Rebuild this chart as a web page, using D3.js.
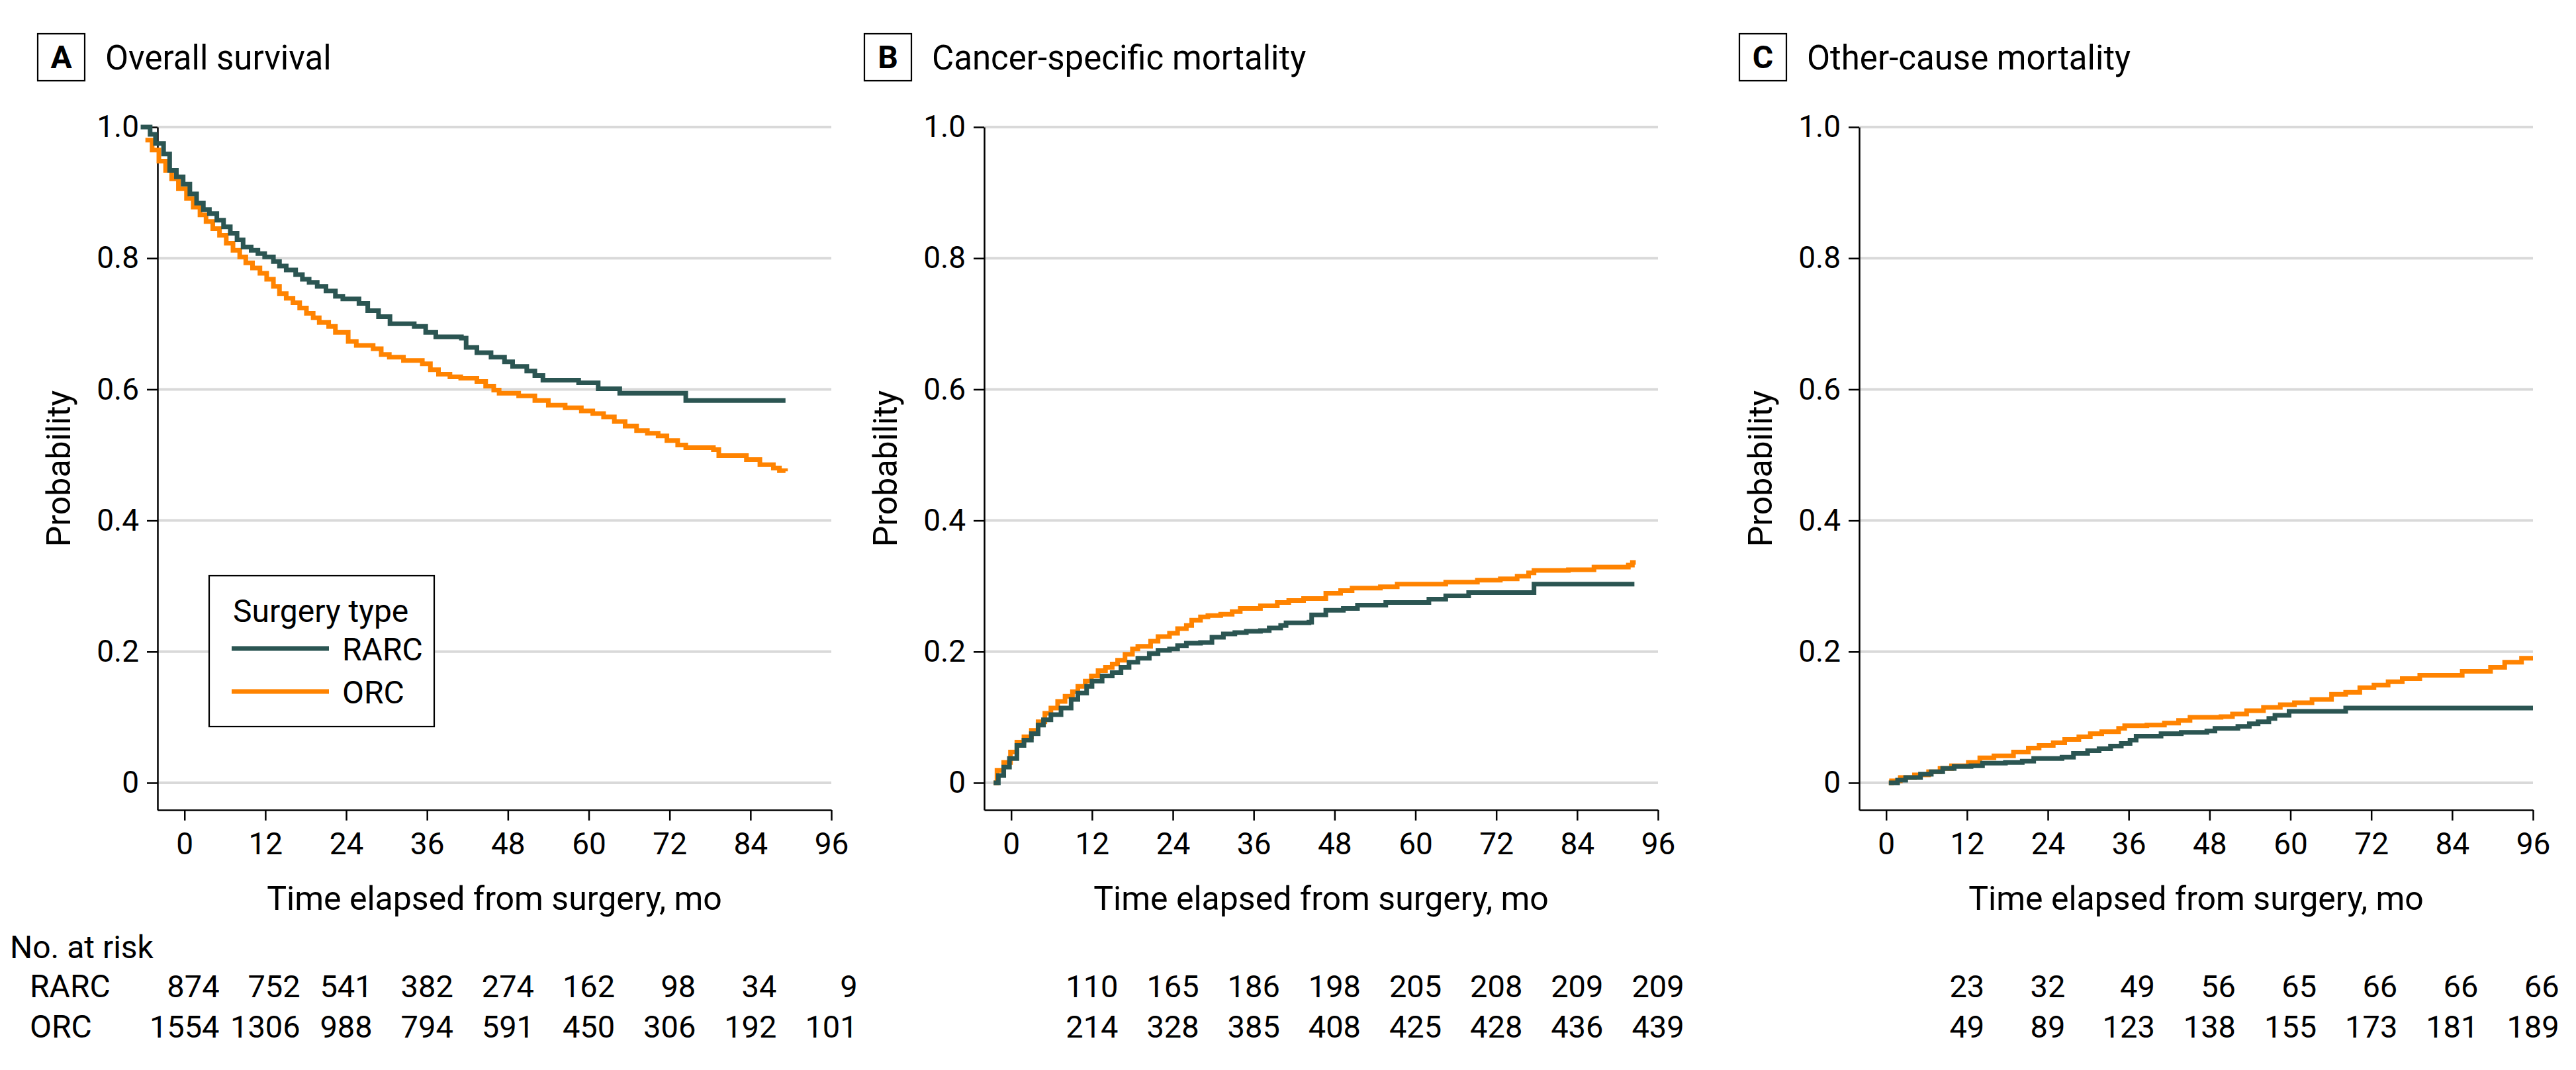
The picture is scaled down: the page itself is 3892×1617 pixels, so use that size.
<!DOCTYPE html>
<html>
<head>
<meta charset="utf-8">
<script src="https://cdn.jsdelivr.net/npm/d3@7"></script>
<style>
  html, body { margin: 0; padding: 0; background: #ffffff; }
  svg text { font-family: Roboto, "Liberation Sans", sans-serif; fill: #000; }
</style>
</head>
<body>
<svg id="chart" width="3892" height="1617"></svg>
<script>
// ---------------- DATA ----------------
const timeTicks = [0, 12, 24, 36, 48, 60, 72, 84, 96];
const probTicks = [0, 0.2, 0.4, 0.6, 0.8, 1.0];
const panelLetters = ["A", "B", "C"];
const panelTitles = ["Overall survival", "Cancer-specific mortality", "Other-cause mortality"];
const groupNames = ["RARC", "ORC"];
const legendTitle = "Surgery type";
const xAxisTitle = "Time elapsed from surgery, mo";
const yAxisTitle = "Probability";
const atRiskTitle = "No. at risk";

// A: overall survival
const osRarcTime = [-6.5,-5.1,-4.3,-3.1,-2.2,-1.2,-0.2,0.8,1.8,2.8,3.7,4.8,5.8,6.8,7.8,8.7,9.9,10.9,11.9,13.2,14.1,15.1,16.5,17.5,18.5,19.7,21.0,22.4,23.5,25.9,27.2,28.8,30.5,34.1,35.8,37.3,41.1,41.8,43.4,45.5,47.5,48.7,50.8,52.0,53.2,58.5,61.4,64.6,74.4,89.2];
const osRarcProb = [1.0,0.989,0.975,0.959,0.934,0.924,0.913,0.898,0.884,0.874,0.868,0.858,0.848,0.838,0.828,0.817,0.812,0.807,0.802,0.795,0.788,0.782,0.775,0.768,0.763,0.757,0.75,0.742,0.738,0.731,0.72,0.711,0.70,0.696,0.687,0.68,0.678,0.664,0.656,0.649,0.642,0.635,0.628,0.621,0.614,0.61,0.601,0.594,0.583,0.583];
const osOrcTime = [-5.8,-4.8,-3.8,-2.8,-1.9,-0.9,0.3,1.3,2.3,3.2,4.2,5.2,6.2,7.2,8.2,9.1,10.1,11.2,12.2,13.2,14.1,15.1,16.1,17.1,18.1,19.1,20.0,21.4,22.4,24.3,25.5,28.0,29.2,30.4,32.5,35.3,36.5,37.7,39.4,41.0,43.4,44.7,45.9,46.7,49.6,52.0,54.0,56.5,58.9,60.6,62.2,63.8,65.4,67.1,68.7,70.3,71.6,73.2,74.4,78.5,79.3,83.4,85.4,87.4,88.3,89.2];
const osOrcProb = [0.98,0.965,0.948,0.934,0.921,0.906,0.891,0.878,0.866,0.856,0.845,0.835,0.823,0.812,0.802,0.793,0.785,0.777,0.768,0.757,0.746,0.739,0.732,0.724,0.716,0.709,0.702,0.696,0.687,0.673,0.667,0.662,0.653,0.649,0.644,0.639,0.63,0.623,0.619,0.617,0.612,0.605,0.599,0.594,0.59,0.583,0.576,0.572,0.567,0.563,0.558,0.551,0.544,0.537,0.533,0.529,0.522,0.515,0.511,0.508,0.499,0.493,0.485,0.48,0.476,0.475];

// B: cancer-specific mortality
const csmRarcTime = [-2.6,-1.9,-1.1,-0.25,0.85,1.9,3.0,4.0,4.8,5.9,7.4,8.9,9.9,11.2,12.0,13.5,15.0,16.3,17.5,18.8,20.5,21.8,23.5,24.7,26.0,28.1,29.8,31.5,33.2,34.9,37.0,38.3,40.0,40.8,44.2,44.6,46.7,49.3,51.4,55.6,62.0,64.5,67.9,77.6,92.5];
const csmRarcProb = [0,0.011,0.024,0.037,0.057,0.065,0.075,0.088,0.096,0.104,0.114,0.127,0.137,0.147,0.155,0.163,0.168,0.176,0.184,0.19,0.197,0.202,0.204,0.209,0.213,0.214,0.222,0.227,0.229,0.231,0.232,0.236,0.24,0.244,0.245,0.256,0.263,0.266,0.271,0.275,0.28,0.285,0.29,0.303,0.303];
const csmOrcTime = [-2.6,-2.1,-1.1,-0.1,0.85,1.9,3.0,4.0,5.0,5.9,6.9,8.0,9.1,9.9,11.0,11.9,12.9,14.0,15.0,15.8,16.9,18.0,18.8,20.7,21.8,23.5,24.7,26.0,26.8,28.1,29.2,31.1,32.8,34.0,37.0,39.5,41.2,43.4,46.7,48.9,50.6,54.8,57.3,64.5,69.2,72.6,75.1,76.8,77.6,82.7,86.5,91.6,92.2,92.7];
const csmOrcProb = [0,0.019,0.031,0.047,0.062,0.07,0.08,0.093,0.106,0.114,0.124,0.132,0.139,0.147,0.155,0.163,0.171,0.176,0.181,0.187,0.196,0.204,0.208,0.216,0.223,0.228,0.235,0.24,0.248,0.253,0.255,0.257,0.261,0.266,0.27,0.275,0.278,0.281,0.289,0.293,0.297,0.299,0.303,0.306,0.309,0.311,0.315,0.32,0.324,0.325,0.329,0.332,0.336,0.336];

// C: other-cause mortality
const ocmRarcTime = [0.4,1.7,2.9,5.1,6.7,8.4,10.1,12.6,14.3,17.7,20.2,21.9,26.1,27.8,29.9,31.6,33.3,34.9,36.2,37.1,40.8,43.8,47.6,48.8,52.2,53.9,55.2,56.8,57.7,59.8,68.2,96.0];
const ocmRarcProb = [0,0.004,0.008,0.013,0.017,0.022,0.025,0.026,0.03,0.031,0.033,0.037,0.039,0.045,0.049,0.052,0.056,0.06,0.065,0.071,0.075,0.077,0.079,0.083,0.086,0.09,0.093,0.098,0.103,0.109,0.114,0.114];
const ocmOrcTime = [0.4,0.8,2.1,4.2,6.3,8.0,9.7,12.2,13.9,16.0,18.9,21.1,22.7,24.8,26.5,28.6,30.3,32.0,34.5,35.4,38.7,41.3,43.4,45.1,49.7,51.4,53.5,56.0,58.5,60.6,63.2,66.1,68.2,70.3,72.4,74.5,76.6,79.2,85.5,89.7,91.8,94.3,96.0];
const ocmOrcProb = [0,0.003,0.008,0.012,0.017,0.022,0.026,0.031,0.038,0.041,0.047,0.053,0.057,0.061,0.066,0.07,0.075,0.078,0.083,0.087,0.088,0.091,0.095,0.1,0.101,0.105,0.11,0.115,0.119,0.122,0.127,0.135,0.138,0.145,0.149,0.154,0.159,0.164,0.17,0.176,0.184,0.19,0.19];

// Numbers at risk
const riskTimesA = [0, 12, 24, 36, 48, 60, 72, 84, 96];
const riskA_RARC = [874, 752, 541, 382, 274, 162, 98, 34, 9];
const riskA_ORC  = [1554, 1306, 988, 794, 591, 450, 306, 192, 101];
const riskTimesBC = [12, 24, 36, 48, 60, 72, 84, 96];
const riskB_RARC = [110, 165, 186, 198, 205, 208, 209, 209];
const riskB_ORC  = [214, 328, 385, 408, 425, 428, 436, 439];
const riskC_RARC = [23, 32, 49, 56, 65, 66, 66, 66];
const riskC_ORC  = [49, 89, 123, 138, 155, 173, 181, 189];

// ---------------- STYLE / LAYOUT ----------------
const colors = { RARC: "#2b5552", ORC: "#ff8300" };
const gridColor = "#d9d9d9";
const panelLeft = [238, 1487, 2809];
const plotW = 1018;
const yTop = 192, yBottom = 1224;
const xDomain = [-4, 96];
const yDomain = [-0.0414, 1];

const svg = d3.select("#chart");
svg.append("rect").attr("width", 3892).attr("height", 1617).attr("fill", "#fff");

const y = d3.scaleLinear().domain(yDomain).range([yBottom, yTop]);
const zip = (t, p) => t.map((d, i) => ({ t: d, p: p[i] }));

const panels = [
  { series: [zip(osOrcTime, osOrcProb), zip(osRarcTime, osRarcProb)],
    risk: { times: riskTimesA, rarc: riskA_RARC, orc: riskA_ORC }, legend: true },
  { series: [zip(csmOrcTime, csmOrcProb), zip(csmRarcTime, csmRarcProb)],
    risk: { times: riskTimesBC, rarc: riskB_RARC, orc: riskB_ORC }, legend: false },
  { series: [zip(ocmOrcTime, ocmOrcProb), zip(ocmRarcTime, ocmRarcProb)],
    risk: { times: riskTimesBC, rarc: riskC_RARC, orc: riskC_ORC }, legend: false }
];
const seriesColor = [colors.ORC, colors.RARC];

panels.forEach((pan, i) => {
  const left = panelLeft[i];
  const x = d3.scaleLinear().domain(xDomain).range([left, left + plotW]);
  const g = svg.append("g");

  // gridlines
  g.append("g").selectAll("line").data(probTicks).join("line")
    .attr("x1", x(xDomain[0])).attr("x2", x(xDomain[1]))
    .attr("y1", d => y(d)).attr("y2", d => y(d))
    .attr("stroke", gridColor).attr("stroke-width", 4);

  // y axis
  const yAx = g.append("g").attr("transform", `translate(${left},0)`)
    .call(d3.axisLeft(y).tickValues(probTicks).tickSize(16).tickSizeOuter(0).tickPadding(12)
      .tickFormat(d => d === 0 ? "0" : d3.format(".1f")(d)));
  yAx.select(".domain").attr("stroke", "#000").attr("stroke-width", 2.5);
  yAx.selectAll(".tick line").attr("stroke", "#000").attr("stroke-width", 2.5);
  yAx.selectAll(".tick text").attr("font-size", 46).attr("font-family", "Roboto").attr("fill", "#000");

  // x axis
  const xAx = g.append("g").attr("transform", `translate(0,${yBottom})`)
    .call(d3.axisBottom(x).tickValues(timeTicks).tickSize(16).tickSizeOuter(0).tickPadding(18));
  xAx.select(".domain").attr("stroke", "#000").attr("stroke-width", 2.5);
  xAx.selectAll(".tick line").attr("stroke", "#000").attr("stroke-width", 2.5);
  xAx.selectAll(".tick text").attr("font-size", 46).attr("font-family", "Roboto").attr("fill", "#000");

  // axis titles
  g.append("text").attr("x", (x(xDomain[0]) + x(xDomain[1])) / 2).attr("y", 1375)
    .attr("text-anchor", "middle").attr("font-size", 50).text(xAxisTitle);
  g.append("text").attr("transform", `translate(${left - 132},${(yTop + yBottom) / 2}) rotate(-90)`)
    .attr("text-anchor", "middle").attr("font-size", 50).text(yAxisTitle);

  // panel title
  g.append("rect").attr("x", left - 181).attr("y", 51).attr("width", 71).attr("height", 71)
    .attr("fill", "none").attr("stroke", "#000").attr("stroke-width", 2.2);
  g.append("text").attr("x", left - 145.5).attr("y", 103).attr("text-anchor", "middle")
    .attr("font-size", 48).attr("font-weight", "bold").text(panelLetters[i]);
  g.append("text").attr("x", left - 79).attr("y", 105).attr("font-size", 51).text(panelTitles[i]);

  // curves
  const line = d3.line().x(d => x(d.t)).y(d => y(d.p)).curve(d3.curveStepAfter);
  pan.series.forEach((s, k) => {
    g.append("path").datum(s).attr("d", line).attr("fill", "none")
      .attr("stroke", seriesColor[k]).attr("stroke-width", 7)
      .attr("stroke-linejoin", "miter").attr("stroke-linecap", "butt");
  });

  // numbers at risk: columns centered on ticks, right aligned within column
  const rowY = [1507, 1568];
  const rows = [pan.risk.rarc, pan.risk.orc];
  pan.risk.times.forEach((t, j) => {
    const texts = rows.map((r, k) => g.append("text").attr("y", rowY[k]).attr("font-size", 47)
      .attr("text-anchor", "end").text(r[j]));
    const w = d3.max(texts, tx => tx.node().getComputedTextLength());
    texts.forEach(tx => tx.attr("x", x(t) + w / 2));
  });

  // legend
  if (pan.legend) {
    const lg = svg.append("g");
    lg.append("rect").attr("x", 316).attr("y", 870).attr("width", 340).attr("height", 228)
      .attr("fill", "#fff").attr("stroke", "#000").attr("stroke-width", 2.2);
    lg.append("text").attr("x", 352).attr("y", 940).attr("font-size", 48).text(legendTitle);
    const ly = [980, 1045];
    [colors.RARC, colors.ORC].forEach((c, k) => {
      lg.append("line").attr("x1", 350).attr("x2", 497).attr("y1", ly[k]).attr("y2", ly[k])
        .attr("stroke", c).attr("stroke-width", 7);
      lg.append("text").attr("x", 517).attr("y", ly[k] + 18).attr("font-size", 48).text(groupNames[k]);
    });
  }
});

// at-risk row labels
svg.append("text").attr("x", 15).attr("y", 1448).attr("font-size", 48).text(atRiskTitle);
svg.append("text").attr("x", 45).attr("y", 1507).attr("font-size", 48).text(groupNames[0]);
svg.append("text").attr("x", 45).attr("y", 1568).attr("font-size", 48).text(groupNames[1]);
</script>
</body>
</html>
